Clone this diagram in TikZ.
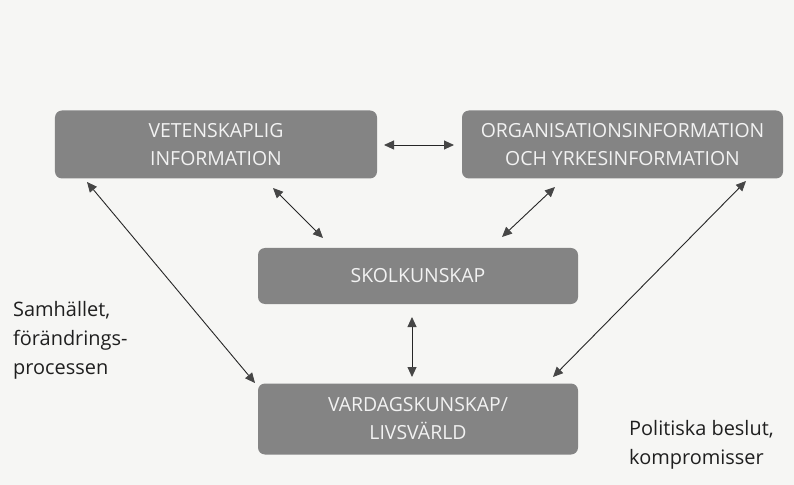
\documentclass[tikz,border=0pt]{standalone}
\usepackage{fontspec}
\setmainfont{Open Sans}
\usetikzlibrary{arrows.meta}
\definecolor{paper}{RGB}{246,246,244}
\definecolor{boxgray}{RGB}{132,132,132}
\definecolor{boxtext}{RGB}{242,242,242}
\definecolor{tipgray}{RGB}{70,70,70}
\tikzset{
  infobox/.style={fill=boxgray, rounded corners=7bp, text=boxtext,
    font=\fontsize{19.5}{28}\selectfont, align=center, inner sep=0pt},
  link/.style={line width=0.9bp, draw=black!85,
    {Triangle[length=10bp,width=9bp,fill=tipgray,color=tipgray]}-{Triangle[length=10bp,width=9bp,fill=tipgray,color=tipgray]}},
  sidelabel/.style={font=\fontsize{20}{29}\selectfont, text=black!88, align=left, anchor=north west, inner sep=0pt}
}
\begin{document}
\begin{tikzpicture}[x=1bp,y=-1bp]
  \fill[paper] (0,0) rectangle (794,485);
  \useasboundingbox (0,0) rectangle (794,485);

  % the four knowledge boxes
  \node[infobox, minimum width=322bp, minimum height=68bp] (vet) at (216,144.5)
    {VETENSKAPLIG\\INFORMATION};
  \node[infobox, minimum width=321bp, minimum height=68bp] (org) at (622.5,144.5)
    {ORGANISATIONSINFORMATION\\OCH YRKESINFORMATION};
  \node[infobox, minimum width=320bp, minimum height=56bp] (skol) at (418,276)
    {SKOLKUNSKAP};
  \node[infobox, minimum width=320bp, minimum height=71bp] (vard) at (418,419)
    {VARDAGSKUNSKAP/\\LIVSVÄRLD};

  % free ends of the connectors
  \coordinate (vetR) at (384,145);
  \coordinate (orgL) at (454,145);
  \coordinate (vetS) at (273,188);
  \coordinate (skolNW) at (323,238);
  \coordinate (orgS) at (555,187);
  \coordinate (skolNE) at (502,237);
  \coordinate (skolS) at (412,317);
  \coordinate (vardN) at (412,377);
  \coordinate (vetSW) at (87,182);
  \coordinate (vardNW) at (255,383);
  \coordinate (orgSE) at (746,181);
  \coordinate (vardNE) at (553,377);

  % connectors
  \draw[link] (vetR) -- (orgL);
  \draw[link] (vetS) -- (skolNW);
  \draw[link] (orgS) -- (skolNE);
  \draw[link] (skolS) -- (vardN);
  \draw[link] (vetSW) -- (vardNW);
  \draw[link] (orgSE) -- (vardNE);

  % side labels
  \node[sidelabel] (samh) at (13,301) {Samhället,\\förändrings-\\processen};
  \node[sidelabel] (pol) at (629,420) {Politiska beslut,\\kompromisser};
\end{tikzpicture}
\end{document}
